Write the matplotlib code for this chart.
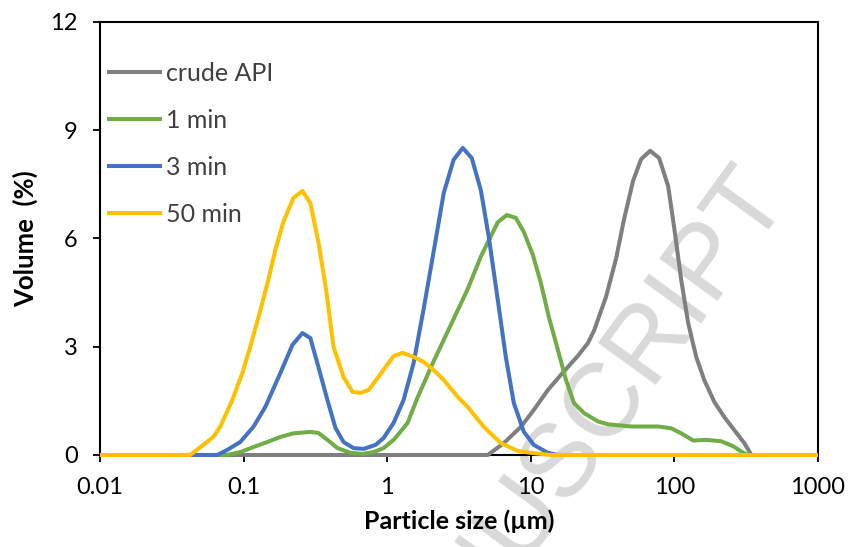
import numpy as np
import matplotlib
matplotlib.use('Agg')
import matplotlib.pyplot as plt

plt.rcParams['font.family'] = ['Lato', 'DejaVu Sans']

# particle size distributions (size in um, volume in %)
crude_size = [0.01, 5.02, 6.49, 8.53, 10.5, 13.15, 16.2, 21.3, 25.0, 27.6, 33.4, 39.3, 44.7,
              51.6, 58.7, 67.8, 78.3, 90.5, 99.7, 111.6, 124.7, 141.9, 161.4, 189.7, 222.8,
              261.3, 307, 343.6, 1000]
crude_vol = [0, 0, 0.33, 0.78, 1.25, 1.8, 2.22, 2.75, 3.1, 3.45, 4.38, 5.45, 6.55,
             7.6, 8.2, 8.43, 8.23, 7.45, 6.3, 4.85, 3.66, 2.72, 2.08, 1.47, 1.05,
             0.69, 0.33, 0, 0]

min1_size = [0.01, 0.0769, 0.0948, 0.117, 0.1463, 0.1803, 0.2222, 0.2917, 0.332, 0.3837,
             0.4508, 0.556, 0.673, 0.803, 0.944, 1.109, 1.24, 1.387, 1.63, 2.109, 2.77,
             3.64, 4.49, 5.89, 6.81, 7.87, 8.95, 10.35, 11.75, 13.37, 15.45, 17.58, 20.0,
             23.5, 29.4, 34.5, 50.0, 77.1, 95.0, 111.6, 135.3, 166.7, 212.3, 257.2, 302,
             327, 1000]
min1_vol = [0, 0, 0.08, 0.22, 0.36, 0.5, 0.6, 0.64, 0.61, 0.42,
            0.19, 0.06, 0.03, 0.08, 0.19, 0.42, 0.65, 0.89, 1.6, 2.6, 3.6,
            4.6, 5.5, 6.45, 6.65, 6.57, 6.18, 5.54, 4.77, 3.82, 2.91, 2.08, 1.44,
            1.16, 0.93, 0.85, 0.79, 0.79, 0.74, 0.6, 0.4, 0.42, 0.38, 0.24, 0.06,
            0, 0]

min3_size = [0.01, 0.0655, 0.0769, 0.0948, 0.117, 0.1416, 0.1803, 0.2188, 0.257, 0.2917,
             0.332, 0.3837, 0.4365, 0.4966, 0.5834, 0.684, 0.830, 0.944, 1.109, 1.30,
             1.528, 1.795, 2.109, 2.477, 2.90, 3.36, 3.88, 4.49, 5.10, 5.89, 6.70, 7.62,
             8.95, 10.5, 13.15, 15.45, 1000]
min3_vol = [0, 0, 0.14, 0.36, 0.78, 1.33, 2.27, 3.05, 3.38, 3.24,
            2.44, 1.52, 0.75, 0.36, 0.19, 0.17, 0.28, 0.47, 0.89, 1.52,
            2.55, 4.05, 5.65, 7.26, 8.18, 8.51, 8.23, 7.34, 6.04, 4.3, 2.72, 1.44,
            0.64, 0.28, 0.06, 0, 0]

min50_size = [0.01, 0.0425, 0.0524, 0.0615, 0.0687, 0.0834, 0.098, 0.1114, 0.131, 0.1486,
              0.1663, 0.1892, 0.2223, 0.257, 0.2917, 0.332, 0.3776, 0.4227, 0.4966, 0.574,
              0.652, 0.741, 0.857, 0.975, 1.109, 1.28, 1.528, 1.795, 2.109, 2.477, 3.10,
              3.64, 4.71, 6.18, 8.13, 10.5, 13.8, 1000]
min50_vol = [0, 0, 0.28, 0.5, 0.78, 1.52, 2.27, 3.0, 4.02, 4.85,
             5.68, 6.46, 7.12, 7.32, 6.98, 5.9, 4.52, 3.0, 2.16, 1.75,
             1.72, 1.8, 2.13, 2.44, 2.74, 2.83, 2.72, 2.58, 2.35, 2.08, 1.61,
             1.33, 0.78, 0.33, 0.11, 0.05, 0, 0]

series = [
    ('crude API', crude_size, crude_vol, '#7f7f7f'),
    ('1 min', min1_size, min1_vol, '#70ad47'),
    ('3 min', min3_size, min3_vol, '#4472c4'),
    ('50 min', min50_size, min50_vol, '#ffc000'),
]

fig = plt.figure(figsize=(8.48, 5.47), dpi=100)
ax = fig.add_axes([0.1179, 0.1682, 0.8467, 0.7916])

for label, xs, ys, col in series:
    ax.plot(xs, ys, color=col, lw=2.9, label=label, clip_on=False, zorder=3,
            solid_joinstyle='round', solid_capstyle='butt')

ax.set_xscale('log')
ax.set_xlim(0.01, 1000)
ax.set_ylim(0, 12)
ax.set_yticks([0, 3, 6, 9, 12])
ax.set_xticks([0.01, 0.1, 1, 10, 100, 1000])
ax.set_xticklabels(['0.01', '0.1', '1', '10', '100', '1000'])
ax.minorticks_off()
ax.tick_params(direction='out', length=5, width=1.3, labelsize=17, pad=11, colors='black')
for sp in ax.spines.values():
    sp.set_linewidth(1.5)

ax.set_xlabel('Particle size (µm)', fontsize=18, fontweight='bold', labelpad=8)
ax.set_ylabel('Volume  (%)', fontsize=18.5, fontweight='bold', labelpad=9)

leg = ax.legend(loc='upper left', bbox_to_anchor=(0.0, 0.926), frameon=False, fontsize=18,
                handlelength=2.2, handletextpad=0.15, labelspacing=0.96,
                borderaxespad=0.3, borderpad=0)
for t in leg.get_texts():
    t.set_color('#404040')

# faint watermark behind the curves
ax.text(0.930, 0.647, 'MANUSCRIPT', transform=fig.transFigure, rotation=54,
        rotation_mode='anchor', ha='right', va='baseline', fontsize=75,
        family='Liberation Sans', color='#d9d9d9', zorder=0.5, clip_on=False)

fig.savefig('out.png', dpi=100)
